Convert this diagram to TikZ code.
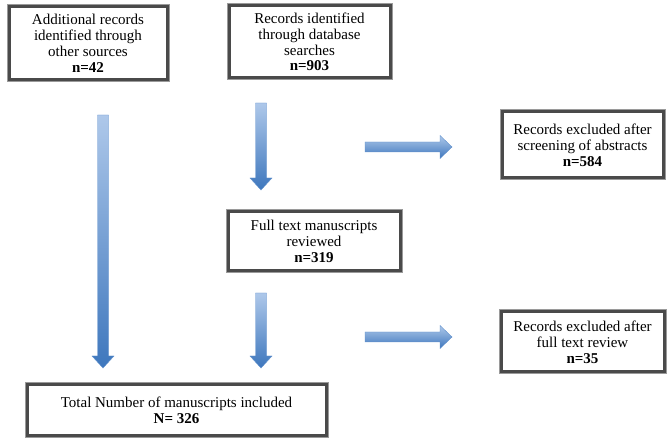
\documentclass[tikz,border=0pt]{standalone}
\usepackage{fontspec}
\setmainfont{Liberation Serif}
\definecolor{arrowlight}{HTML}{AEC8EA}
\definecolor{arrowdark}{HTML}{3E77BD}
\definecolor{arrowedge}{HTML}{5F8FCB}
\definecolor{frameouter}{HTML}{9A9A9A}
\definecolor{frameinner}{HTML}{4A4A4A}
\tikzset{
  box/.style={draw=frameinner, line width=3pt, fill=white, align=center,
    inner sep=2pt, font=\fontsize{15}{15.8}\selectfont,
    preaction={draw=frameouter, line width=5pt}},
  blockarrow/.style={top color=arrowlight, bottom color=arrowdark, draw=arrowedge, line width=0.4pt}
}
\newcommand{\vertarrow}[3]{%
  \shade[blockarrow] (#1-5.5,#2) -- (#1+5.5,#2) -- (#1+5.5,#3-12) -- (#1+11,#3-12)
    -- (#1,#3) -- (#1-11,#3-12) -- (#1-5.5,#3-12) -- cycle;}
\newcommand{\horarrow}[3]{%
  \shade[blockarrow] (#1,#3-5) -- (#2-12,#3-5) -- (#2-12,#3-11.5) -- (#2,#3)
    -- (#2-12,#3+11.5) -- (#2-12,#3+5) -- (#1,#3+5) -- cycle;}
\begin{document}
\begin{tikzpicture}[x=1pt,y=-1pt]
\useasboundingbox (0,0) rectangle (670,443);
\node[box, minimum width=158pt, minimum height=73pt] (add) at (88,43.5)
  {Additional records\\identified through\\other sources\\\textbf{n=42}};
\node[box, minimum width=161pt, minimum height=72pt] (db) at (309.5,42)
  {Records identified\\through database\\searches\\\textbf{n=903}};
\node[box, minimum width=172pt, minimum height=59pt] (full) at (314,241.5)
  {Full text manuscripts\\reviewed\\\textbf{n=319}};
\node[box, minimum width=161pt, minimum height=66pt] (exa) at (582.5,145)
  {Records excluded after\\screening of abstracts\\\textbf{n=584}};
\node[box, minimum width=163pt, minimum height=60pt] (exf) at (582.5,342)
  {Records excluded after\\full text review\\\textbf{n=35}};
\node[box, minimum width=299pt, minimum height=51pt] (total) at (176.5,410.5)
  {Total Number of manuscripts included\\\textbf{N= 326}};
\vertarrow{103}{115}{368}
\vertarrow{261}{103}{190}
\vertarrow{261}{293}{368}
\horarrow{365}{452}{147}
\horarrow{365}{452}{337}
\end{tikzpicture}
\end{document}
